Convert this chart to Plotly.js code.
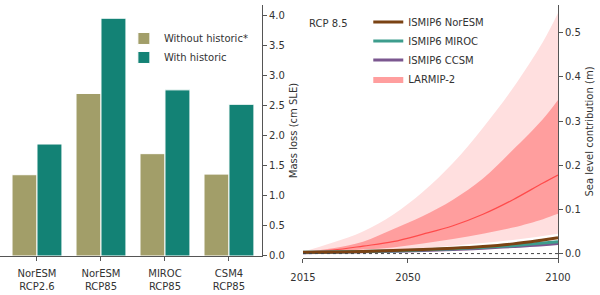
<!DOCTYPE html>
<html>
<head>
<meta charset="utf-8">
<script src="https://cdn.plot.ly/plotly-3.0.1.min.js"></script>
<style>html,body{margin:0;padding:0;background:#fff;}#chart{width:600px;height:295px;}</style>
</head>
<body>
<div id="chart"></div>
<script>
// ---- Left panel: bar chart ----
const barCategories = ["NorESM<br>RCP2.6", "NorESM<br>RCP85", "MIROC<br>RCP85", "CSM4<br>RCP85"];
const withoutHistoric = [1.35, 2.70, 1.70, 1.36];
const withHistoric = [1.86, 3.95, 2.76, 2.52];
const barTicks = [0, 0.5, 1.0, 1.5, 2.0, 2.5, 3.0, 3.5, 4.0];

// ---- Right panel: sea level contribution ----
const years = [2015, 2025, 2035, 2045, 2055, 2065, 2075, 2085, 2095, 2100];
const larmipLow95 = [0.002, 0.003, 0.005, 0.007, 0.012, 0.018, 0.024, 0.031, 0.040, 0.045];
const larmipHigh95 = [0.004, 0.025, 0.050, 0.088, 0.140, 0.205, 0.285, 0.375, 0.480, 0.545];
const larmipLow66 = [0.003, 0.005, 0.009, 0.014, 0.023, 0.033, 0.045, 0.059, 0.078, 0.090];
const larmipHigh66 = [0.004, 0.012, 0.027, 0.055, 0.085, 0.122, 0.170, 0.235, 0.305, 0.348];
const larmipMedian = [0.003, 0.008, 0.017, 0.027, 0.044, 0.063, 0.089, 0.122, 0.160, 0.178];
const ismipYears = [2015, 2035, 2050, 2065, 2075, 2085, 2095, 2100];
const ismipNorESM = [0.003, 0.005, 0.008, 0.012, 0.016, 0.022, 0.031, 0.036];
const ismipMIROC = [0.003, 0.005, 0.007, 0.011, 0.014, 0.018, 0.024, 0.027];
const ismipCCSM = [0.002, 0.004, 0.006, 0.009, 0.012, 0.016, 0.020, 0.023];
const slTicks = [0, 0.1, 0.2, 0.3, 0.4, 0.5];
const yearTicks = [2015, 2050, 2100];

const FONT = "DejaVu Sans, sans-serif";
const TXT = "#333333";
const AX = "#555555";

const traces = [
  {type: "bar", x: barCategories, y: withoutHistoric, name: "Without historic*",
   marker: {color: "#a29e69", line: {color: "#ffffff", width: 1}}, xaxis: "x", yaxis: "y", legend: "legend"},
  {type: "bar", x: barCategories, y: withHistoric, name: "With historic",
   marker: {color: "#138275", line: {color: "#ffffff", width: 1}}, xaxis: "x", yaxis: "y", legend: "legend"},

  {type: "scatter", mode: "lines", x: years, y: larmipLow95, line: {width: 0, color: "#ffdede", shape: "spline"},
   showlegend: false, hoverinfo: "skip", xaxis: "x2", yaxis: "y2"},
  {type: "scatter", mode: "lines", x: years, y: larmipHigh95, fill: "tonexty", fillcolor: "#ffdfdf",
   line: {width: 0, color: "#ffdfdf", shape: "spline"}, showlegend: false, xaxis: "x2", yaxis: "y2"},
  {type: "scatter", mode: "lines", x: years, y: larmipLow66, line: {width: 0, color: "#ff9c9c", shape: "spline"},
   showlegend: false, hoverinfo: "skip", xaxis: "x2", yaxis: "y2"},
  {type: "scatter", mode: "lines", x: years, y: larmipHigh66, fill: "tonexty", fillcolor: "#ff9e9e",
   line: {width: 0, color: "#ffaaaa", shape: "spline"}, name: "LARMIP-2", legend: "legend2", legendrank: 4,
   xaxis: "x2", yaxis: "y2"},
  {type: "scatter", mode: "lines", x: years, y: larmipMedian, line: {width: 1.2, color: "#ff4b4b", shape: "spline"},
   showlegend: false, xaxis: "x2", yaxis: "y2"},

  {type: "scatter", mode: "lines", x: ismipYears, y: ismipCCSM, name: "ISMIP6 CCSM", legend: "legend2", legendrank: 3,
   line: {width: 3, color: "#7b578f", shape: "spline"}, xaxis: "x2", yaxis: "y2"},
  {type: "scatter", mode: "lines", x: ismipYears, y: ismipMIROC, name: "ISMIP6 MIROC", legend: "legend2", legendrank: 2,
   line: {width: 3, color: "#3d9d8d", shape: "spline"}, xaxis: "x2", yaxis: "y2"},
  {type: "scatter", mode: "lines", x: ismipYears, y: ismipNorESM, name: "ISMIP6 NorESM", legend: "legend2", legendrank: 1,
   line: {width: 3, color: "#7a4314", shape: "spline"}, xaxis: "x2", yaxis: "y2"}
];

const tickFont = {family: FONT, size: 10, color: TXT};

const layout = {
  width: 600, height: 295,
  margin: {l: 0, r: 42, t: 5, b: 37, pad: 0},
  paper_bgcolor: "#ffffff", plot_bgcolor: "rgba(0,0,0,0)",
  font: {family: FONT, size: 10, color: TXT},
  barmode: "group", bargap: 0.22, bargroupgap: 0,
  xaxis: {domain: [0, 0.4695], range: [-0.578, 3.516], type: "category",
    showgrid: false, zeroline: false, showline: true, linecolor: AX, linewidth: 1,
    ticks: "outside", ticklen: 4, tickcolor: AX, tickfont: tickFont, ticklabelstandoff: 4,
    anchor: "y", fixedrange: true},
  yaxis: {domain: [0.008, 1], range: [0, 4.17], side: "right", anchor: "x",
    tickvals: barTicks, ticktext: barTicks.map(v => v.toFixed(1)),
    showgrid: false, zeroline: false, showline: true, linecolor: AX, linewidth: 1,
    ticks: "outside", ticklen: 4, tickcolor: AX, tickfont: tickFont,
    title: {text: "Mass loss (cm SLE)", font: {family: FONT, size: 10, color: TXT}, standoff: 6}},
  xaxis2: {domain: [0.543, 1], range: [2015, 2100], anchor: "y2",
    tickvals: yearTicks, ticktext: yearTicks.map(String),
    showgrid: false, zeroline: false, showline: true, linecolor: AX, linewidth: 1,
    ticks: "outside", ticklen: 4, tickcolor: AX, tickfont: tickFont, ticklabelstandoff: 6},
  yaxis2: {domain: [0, 1], range: [-0.01, 0.563], side: "right", anchor: "x2",
    tickvals: slTicks, ticktext: slTicks.map(v => v.toFixed(1)),
    showgrid: false, zeroline: false, showline: true, linecolor: AX, linewidth: 1,
    ticks: "outside", ticklen: 4, tickcolor: AX, tickfont: tickFont,
    title: {text: "Sea level contribution (m)", font: {family: FONT, size: 10, color: TXT}, standoff: 6}},
  legend: {x: 0.222, y: 0.925, xanchor: "left", yanchor: "top", bgcolor: "rgba(0,0,0,0)",
    font: {family: FONT, size: 10, color: TXT}, itemwidth: 30, traceorder: "normal"},
  legend2: {x: 0.66, y: 0.99, xanchor: "left", yanchor: "top", bgcolor: "rgba(0,0,0,0)",
    font: {family: FONT, size: 10, color: TXT}, itemwidth: 30, traceorder: "normal"},
  shapes: [{type: "line", xref: "x2 domain", yref: "y2", x0: 0, x1: 1, y0: 0, y1: 0,
    line: {color: "#444444", width: 1, dash: "dot"}, layer: "above"}],
  annotations: [{text: "RCP 8.5", xref: "paper", yref: "paper", x: 0.5896, y: 0.925,
    xanchor: "center", yanchor: "middle", showarrow: false, font: {family: FONT, size: 10, color: TXT}}]
};

Plotly.newPlot("chart", traces, layout, {displayModeBar: false, staticPlot: true});
</script>
</body>
</html>
